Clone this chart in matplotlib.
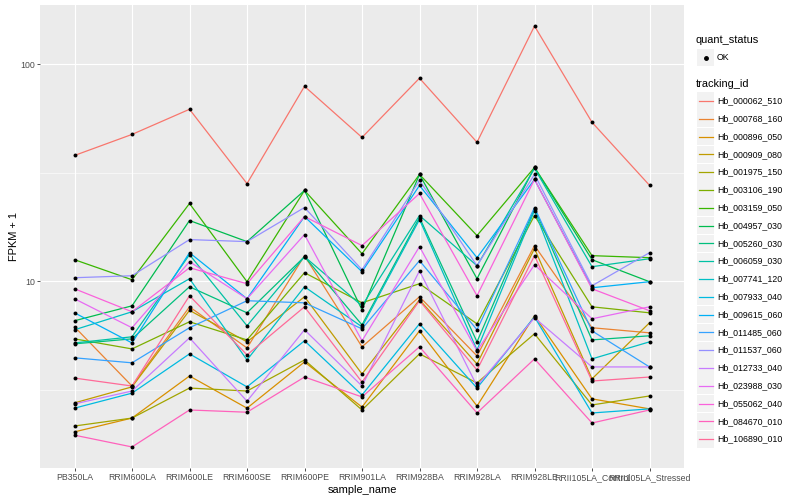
import numpy as np
import matplotlib
matplotlib.use("Agg")
import matplotlib.pyplot as plt
from matplotlib.patches import Rectangle
from matplotlib.lines import Line2D

plt.rcParams["font.family"] = ["Liberation Sans", "DejaVu Sans"]

samples = ["PB350LA", "RRIM600LA", "RRIM600LE", "RRIM600SE", "RRIM600PE", "RRIM901LA",
           "RRIM928BA", "RRIM928LA", "RRIM928LE", "RRII105LA_Control", "RRII105LA_Stressed"]

# FPKM + 1, one list per gene, in sample order
hb_000062_510 = [38.0, 47.5, 62.0, 28.2, 79.1, 46.0, 86.2, 43.7, 149.8, 54.0, 27.7]
hb_000768_160 = [6.18, 3.30, 7.64, 4.94, 13.14, 5.00, 8.50, 4.54, 14.62, 6.12, 5.80]
hb_000896_050 = [2.03, 2.35, 3.67, 2.61, 4.26, 2.64, 5.92, 2.67, 6.95, 2.88, 2.59]
hb_000909_080 = [2.76, 3.27, 7.36, 5.27, 8.50, 3.75, 8.23, 4.17, 14.16, 3.56, 6.45]
hb_001975_150 = [2.16, 2.35, 3.23, 3.13, 4.35, 2.56, 4.64, 3.41, 5.74, 2.70, 2.97]
hb_003106_190 = [5.44, 4.89, 6.52, 5.38, 10.97, 7.97, 9.76, 6.38, 20.11, 7.64, 7.17]
hb_003159_050 = [12.59, 10.18, 22.84, 9.97, 26.22, 13.42, 31.08, 16.26, 33.48, 13.14, 12.86]
hb_004957_030 = [6.59, 7.72, 19.07, 15.25, 26.22, 7.40, 31.08, 10.29, 33.48, 12.59, 9.97]
hb_005260_030 = [5.16, 5.44, 9.45, 7.17, 13.00, 6.31, 19.68, 5.27, 21.66, 5.38, 5.62]
hb_006059_030 = [5.21, 5.56, 13.28, 6.25, 13.00, 7.72, 20.11, 11.81, 33.13, 11.69, 12.72]
hb_007741_120 = [5.99, 7.25, 10.29, 4.35, 9.45, 6.18, 19.27, 4.84, 21.20, 4.40, 5.27]
hb_007933_040 = [2.61, 3.06, 4.64, 3.27, 5.33, 3.00, 6.38, 3.23, 6.87, 2.48, 2.59]
hb_009615_060 = [7.17, 5.21, 13.56, 8.32, 19.89, 11.08, 27.65, 12.86, 29.47, 9.35, 9.97]
hb_011485_060 = [4.45, 4.22, 6.12, 8.15, 7.97, 6.05, 12.46, 5.99, 21.89, 5.92, 4.04]
hb_011537_060 = [10.40, 10.62, 15.58, 15.25, 21.89, 11.32, 29.16, 11.81, 31.08, 9.55, 13.56]
hb_012733_040 = [2.73, 3.13, 5.50, 2.81, 5.99, 3.30, 11.20, 3.30, 6.80, 4.04, 4.04]
hb_023988_030 = [8.32, 6.12, 12.33, 8.32, 16.43, 5.33, 14.46, 4.79, 11.94, 6.73, 7.64]
hb_055062_040 = [9.25, 7.25, 11.56, 9.76, 19.89, 14.62, 25.40, 8.59, 29.47, 9.25, 7.33]
hb_084670_010 = [1.96, 1.73, 2.56, 2.50, 3.63, 2.94, 5.00, 2.48, 4.40, 2.23, 2.56]
hb_106890_010 = [3.59, 3.30, 8.59, 4.59, 7.64, 3.44, 8.15, 3.91, 13.14, 3.48, 3.63]

tracking_ids = ["Hb_000062_510", "Hb_000768_160", "Hb_000896_050", "Hb_000909_080",
                "Hb_001975_150", "Hb_003106_190", "Hb_003159_050", "Hb_004957_030",
                "Hb_005260_030", "Hb_006059_030", "Hb_007741_120", "Hb_007933_040",
                "Hb_009615_060", "Hb_011485_060", "Hb_011537_060", "Hb_012733_040",
                "Hb_023988_030", "Hb_055062_040", "Hb_084670_010", "Hb_106890_010"]
series = [hb_000062_510, hb_000768_160, hb_000896_050, hb_000909_080, hb_001975_150,
          hb_003106_190, hb_003159_050, hb_004957_030, hb_005260_030, hb_006059_030,
          hb_007741_120, hb_007933_040, hb_009615_060, hb_011485_060, hb_011537_060,
          hb_012733_040, hb_023988_030, hb_055062_040, hb_084670_010, hb_106890_010]


def hcl_to_rgb(h, c, l):
    # polarLUV -> sRGB, same as R's hcl()
    hr = np.deg2rad(h)
    U = c * np.cos(hr)
    V = c * np.sin(hr)
    Xn, Yn, Zn = 95.047, 100.0, 108.883
    Y = Yn * ((l + 16) / 116) ** 3
    un = 4 * Xn / (Xn + 15 * Yn + 3 * Zn)
    vn = 9 * Yn / (Xn + 15 * Yn + 3 * Zn)
    u = U / (13 * l) + un
    v = V / (13 * l) + vn
    X = 9.0 * Y * u / (4 * v)
    Z = -X / 3 - 5 * Y + 3 * Y / v
    M = np.array([[3.240479, -1.537150, -0.498535],
                  [-0.969256, 1.875992, 0.041556],
                  [0.055648, -0.204043, 1.057311]])
    lin = M @ np.array([X, Y, Z]) / 100
    out = np.where(lin <= 0.0031308, 12.92 * lin, 1.055 * np.abs(lin) ** (1 / 2.4) - 0.055)
    return tuple(np.clip(out, 0, 1))


n = len(series)
colors = [hcl_to_rgb(15 + 360 * i / n, 100, 65) for i in range(n)]

W, H = 800, 500
fig = plt.figure(figsize=(8, 5), dpi=100)
fig.patch.set_facecolor("white")
ax = fig.add_axes([40 / W, 1 - 468 / H, (684 - 40) / W, (468 - 5) / H])
ax.set_facecolor("#EBEBEB")
for s in ax.spines.values():
    s.set_visible(False)

x = np.arange(len(samples))
for vals, col in zip(series, colors):
    ax.plot(x, vals, color=col, lw=0.9, zorder=2)
for vals in series:
    ax.scatter(x, vals, s=8, color="black", zorder=3, linewidths=0)

ax.set_yscale("log")
allv = np.log10(np.concatenate([np.array(v) for v in series]))
lo, hi = allv.min(), allv.max()
pad = (hi - lo) * 0.05
ax.set_ylim(10 ** (lo - pad), 10 ** (hi + pad))
ax.set_xlim(-0.6, len(samples) - 0.4)

ax.set_yticks([10, 100])
ax.set_yticklabels(["10", "100"])
ax.set_yticks([10 ** 0.5, 10 ** 1.5], minor=True)
ax.yaxis.set_minor_formatter(plt.NullFormatter())
ax.set_xticks(x)
ax.set_xticklabels(samples)

ax.grid(True, which="major", color="white", lw=0.8, zorder=0)
ax.grid(True, which="minor", axis="y", color="white", lw=0.4, zorder=0)
ax.set_axisbelow(True)
ax.tick_params(which="major", length=2, width=0.6, color="#333333", labelsize=6.3,
               labelcolor="#4D4D4D", pad=1.5)
ax.tick_params(which="minor", length=0)

ax.set_ylabel("FPKM + 1", fontsize=7.9, labelpad=1)
ax.set_xlabel("sample_name", fontsize=7.9, labelpad=2)


def fx(px):
    return px / W


def fy(py):
    return 1 - py / H


# legend, drawn by hand
fig.text(fx(696), fy(40), "quant_status", fontsize=7.9, va="center", ha="left")
fig.add_artist(Rectangle((fx(697), fy(66)), 17 / W, 17 / H, transform=fig.transFigure,
                         facecolor="#F2F2F2", edgecolor="none"))
fig.add_artist(Line2D([fx(705.5)], [fy(57.5)], marker="o", markersize=2.5, color="black",
                      transform=fig.transFigure))
fig.text(fx(717), fy(57.5), "OK", fontsize=6.3, va="center", ha="left")

fig.text(fx(696), fy(84), "tracking_id", fontsize=7.9, va="center", ha="left")
for i, (tid, col) in enumerate(zip(tracking_ids, colors)):
    cy = 101 + i * 17.8
    fig.add_artist(Rectangle((fx(697), fy(cy + 8.6)), 17 / W, 17.2 / H,
                             transform=fig.transFigure, facecolor="#F2F2F2", edgecolor="none"))
    fig.add_artist(Line2D([fx(699), fx(713)], [fy(cy), fy(cy)], color=col, lw=0.9,
                          transform=fig.transFigure))
    fig.text(fx(717), fy(cy), tid, fontsize=6.3, va="center", ha="left")

fig.savefig("out.png", dpi=100)
